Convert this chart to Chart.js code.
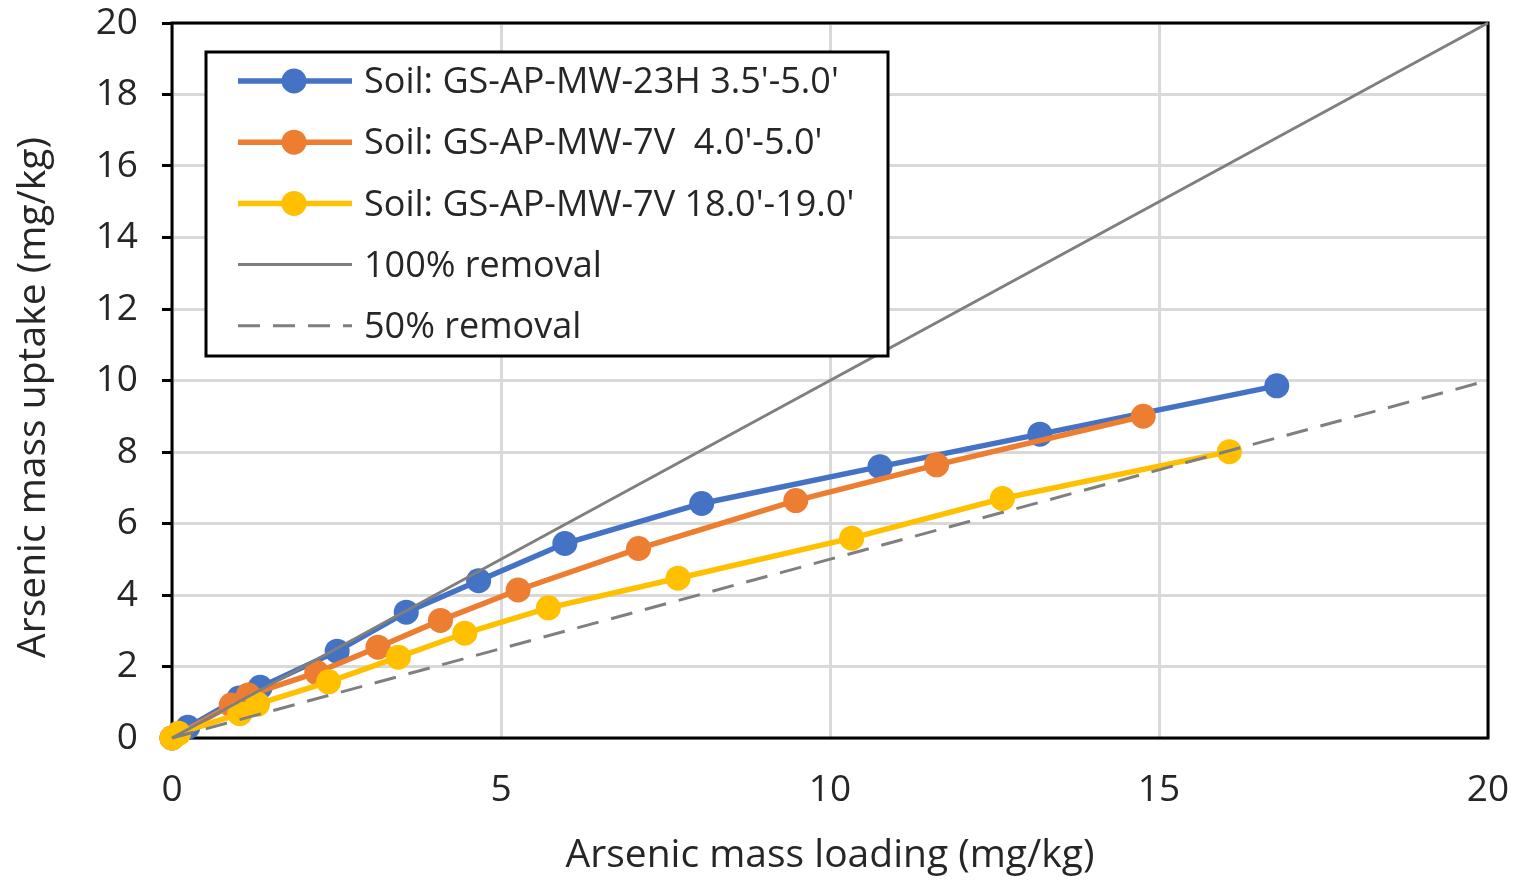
<!DOCTYPE html>
<html>
<head>
<meta charset="utf-8">
<script src="https://cdn.jsdelivr.net/npm/chart.js@4/dist/chart.umd.min.js"></script>
<style>
  html, body { margin: 0; padding: 0; background: #ffffff; }
  #wrap { width: 1518px; height: 880px; position: relative; }
</style>
</head>
<body>
<div id="wrap"><canvas id="c" width="1518" height="880"></canvas></div>
<script>
// Arsenic mass loading (x) vs. arsenic mass uptake (y), mg/kg
const seriesNames = [
  "Soil: GS-AP-MW-23H 3.5'-5.0'",
  "Soil: GS-AP-MW-7V  4.0'-5.0'",
  "Soil: GS-AP-MW-7V 18.0'-19.0'"
];
const loading23H = [0, 0.24, 1.02, 1.34, 2.51, 3.56, 4.66, 5.97, 8.05, 10.76, 13.19, 16.79];
const uptake23H  = [0, 0.30, 1.12, 1.42, 2.43, 3.52, 4.40, 5.44, 6.56, 7.59, 8.50, 9.85];

const loading7V4  = [0, 0.90, 1.16, 2.20, 3.13, 4.08, 5.26, 7.09, 9.48, 11.62, 14.76];
const uptake7V4   = [0, 0.92, 1.20, 1.83, 2.54, 3.29, 4.14, 5.30, 6.64, 7.64, 9.00];

const loading7V18 = [0, 0.10, 1.03, 1.30, 2.38, 3.44, 4.45, 5.72, 7.69, 10.33, 12.62, 16.07];
const uptake7V18  = [0, 0.13, 0.68, 0.95, 1.57, 2.26, 2.93, 3.64, 4.47, 5.59, 6.70, 8.01];

const removalNames = ["100% removal", "50% removal"];
const removalLoading = [0, 20];
const removal100 = [0, 20];
const removal50  = [0, 10];

const xTicks = [0, 5, 10, 15, 20];
const yTicks = [0, 2, 4, 6, 8, 10, 12, 14, 16, 18, 20];

const xTitle = 'Arsenic mass loading (mg/kg)';
const yTitle = 'Arsenic mass uptake (mg/kg)';

const FONT = "'Open Sans', 'Noto Sans', sans-serif";
const TEXT = '#262626';

function pairs(xs, ys) { return xs.map((x, i) => ({ x: x, y: ys[i] })); }

function seriesDataset(label, xs, ys, color, order) {
  return {
    label: label,
    data: pairs(xs, ys),
    showLine: true,
    borderColor: color,
    backgroundColor: color,
    borderWidth: 5.5,
    pointRadius: 12.5,
    pointHoverRadius: 12.5,
    pointBorderWidth: 0,
    pointBackgroundColor: color,
    order: order,
    clip: false
  };
}

function refDataset(label, ys, dash) {
  return {
    label: label,
    data: pairs(removalLoading, ys),
    showLine: true,
    borderColor: '#7f7f7f',
    backgroundColor: '#7f7f7f',
    borderWidth: 3,
    borderDash: dash,
    pointRadius: 0,
    order: 0,
    clip: false
  };
}

// plot-area frame
const frame = {
  id: 'frame',
  beforeDatasetsDraw(chart) {
    const a = chart.chartArea, ctx = chart.ctx;
    ctx.save();
    ctx.strokeStyle = '#000';
    ctx.lineWidth = 3;
    ctx.strokeRect(a.left, a.top, a.right - a.left, a.bottom - a.top);
    ctx.restore();
  }
};

// vertical axis title, set slightly below the plot's midline
const yAxisTitle = {
  id: 'yAxisTitle',
  afterDraw(chart) {
    const a = chart.chartArea, ctx = chart.ctx;
    ctx.save();
    ctx.translate(34, (a.top + a.bottom) / 2 + 17);
    ctx.rotate(-Math.PI / 2);
    ctx.font = '39px ' + FONT;
    ctx.fillStyle = TEXT;
    ctx.textAlign = 'center';
    ctx.textBaseline = 'middle';
    ctx.fillText(yTitle, 0, 0);
    ctx.restore();
  }
};

// boxed legend inside the plot area
const boxLegend = {
  id: 'boxLegend',
  afterDraw(chart) {
    const ctx = chart.ctx;
    const box = { x: 206, y: 52, w: 682, h: 304 };
    ctx.save();
    ctx.fillStyle = '#fff';
    ctx.fillRect(box.x, box.y, box.w, box.h);
    ctx.strokeStyle = '#000';
    ctx.lineWidth = 3;
    ctx.strokeRect(box.x, box.y, box.w, box.h);
    const rowY0 = 81, rowStep = 61.2;
    const lx0 = 238, lx1 = 352, mx = 294, tx = 364;
    ctx.font = '36px ' + FONT;
    ctx.textBaseline = 'middle';
    ctx.textAlign = 'left';
    chart.data.datasets.forEach((ds, i) => {
      const y = rowY0 + i * rowStep;
      ctx.strokeStyle = ds.borderColor;
      ctx.lineWidth = ds.borderWidth;
      ctx.setLineDash(ds.borderDash || []);
      ctx.beginPath();
      ctx.moveTo(lx0, y);
      ctx.lineTo(lx1, y);
      ctx.stroke();
      ctx.setLineDash([]);
      if (ds.pointRadius > 0) {
        ctx.fillStyle = ds.pointBackgroundColor;
        ctx.beginPath();
        ctx.arc(mx, y, ds.pointRadius, 0, Math.PI * 2);
        ctx.fill();
      }
      ctx.fillStyle = TEXT;
      ctx.fillText(ds.label, tx, y + 2);
    });
    ctx.restore();
  }
};

new Chart(document.getElementById('c'), {
  type: 'scatter',
  data: {
    datasets: [
      seriesDataset(seriesNames[0], loading23H, uptake23H, '#4472c4', 3),
      seriesDataset(seriesNames[1], loading7V4, uptake7V4, '#ed7d31', 2),
      seriesDataset(seriesNames[2], loading7V18, uptake7V18, '#ffc000', 1),
      refDataset(removalNames[0], removal100, []),
      refDataset(removalNames[1], removal50, [22, 13])
    ]
  },
  options: {
    responsive: false,
    animation: false,
    layout: { padding: { top: 23, right: 30, bottom: 0, left: 0 } },
    plugins: {
      legend: { display: false },
      tooltip: { enabled: false }
    },
    scales: {
      x: {
        type: 'linear',
        min: 0, max: 20,
        afterBuildTicks(s) { s.ticks = xTicks.map(v => ({ value: v })); },
        afterFit(s) { s.height = 142; s.paddingLeft = 0; s.paddingRight = 0; },
        grid: { color: '#d9d9d9', lineWidth: 3, drawTicks: false },
        border: { display: false },
        ticks: { font: { family: FONT, size: 37 }, color: TEXT, padding: 30 },
        title: {
          display: true,
          text: xTitle,
          font: { family: FONT, size: 39 },
          color: TEXT,
          padding: { top: 0, bottom: 1 }
        }
      },
      y: {
        type: 'linear',
        min: 0, max: 20,
        afterBuildTicks(s) { s.ticks = yTicks.map(v => ({ value: v })); },
        afterFit(s) { s.width = 172; s.paddingTop = 0; s.paddingBottom = 0; },
        grid: { color: '#d9d9d9', lineWidth: 3, tickColor: '#000', tickLength: 10, tickWidth: 3 },
        border: { display: false },
        ticks: { font: { family: FONT, size: 37 }, color: TEXT, padding: 24 }
      }
    }
  },
  plugins: [frame, yAxisTitle, boxLegend]
});
</script>
</body>
</html>
